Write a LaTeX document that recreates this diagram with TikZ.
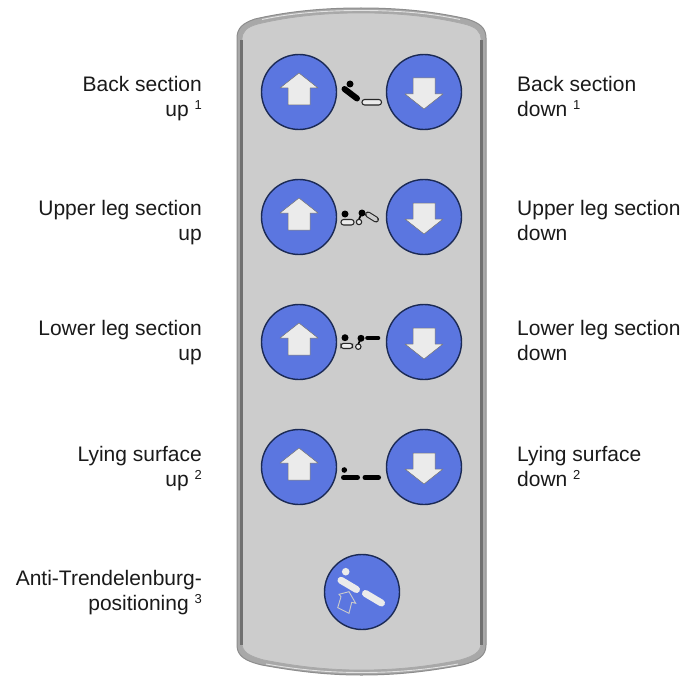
\documentclass[tikz,border=0pt]{standalone}
\usepackage{fontspec}
\setmainfont{Liberation Sans}
\definecolor{panel}{HTML}{CCCCCC}
\definecolor{rimdark}{HTML}{707070}
\definecolor{rimmid}{HTML}{A8A8A8}
\definecolor{rimlight}{HTML}{E2E2E2}
\definecolor{btn}{HTML}{5B76E0}
\definecolor{btnrim}{HTML}{1B2A55}
\definecolor{arrowfill}{HTML}{EBEBEB}
\definecolor{txt}{HTML}{1A1A1A}
\tikzset{
  x=1pt,y=-1pt,
  lbl/.style={text=txt,font=\fontsize{21}{25}\selectfont,inner sep=0pt,align=left,anchor=north west},
  lblr/.style={text=txt,font=\fontsize{21}{25}\selectfont,inner sep=0pt,align=right,anchor=north east},
  btncircle/.style={circle,draw=btnrim,line width=1.4pt,fill=btn,minimum size=75pt,inner sep=0pt},
  arrowshape/.style={fill=arrowfill,draw=black!55,line width=0.5pt,line join=round},
  darkpill/.style={line width=5pt,line cap=round,black},
  openpill/.style={rounded corners=2.6pt,draw=black!85,fill=arrowfill,line width=1.1pt},
  whitepill/.style={line width=7pt,line cap=round,arrowfill},
}
\newcommand{\sups}[1]{\raisebox{7pt}{\fontsize{13}{13}\selectfont #1}}
\newcommand{\uparrowat}[2]{\draw[arrowshape] (#1,#2-19)--(#1+19,#2-4)--(#1+11,#2-4)--(#1+11,#2+13)--(#1-11,#2+13)--(#1-11,#2-4)--(#1-19,#2-4)--cycle;}
\newcommand{\downarrowat}[2]{\draw[arrowshape] (#1,#2+17)--(#1+19,#2+2)--(#1+11,#2+2)--(#1+11,#2-14)--(#1-11,#2-14)--(#1-11,#2+2)--(#1-19,#2+2)--cycle;}
\begin{document}
\begin{tikzpicture}
\useasboundingbox (0,0) rectangle (686,677);
\fill[white] (0,0) rectangle (686,677);
% body: outer rim
\def\bodypath{(237,38) .. controls (237,28) and (243,23) .. (255,19) .. controls (290,11) and (325,8) .. (361,8) .. controls (397,8) and (432,11) .. (467,19) .. controls (480,23) and (486,28) .. (486,38) -- (486,645) .. controls (486,656) and (478,661) .. (462,665) .. controls (425,672) and (395,675) .. (361,675) .. controls (330,675) and (300,672) .. (262,665) .. controls (245,661) and (237,656) .. (237,645) -- cycle}
\def\innerpath{(242,40) .. controls (242,31) and (247,27) .. (258,24) .. controls (292,16) and (325,13) .. (361,13) .. controls (397,13) and (430,16) .. (464,24) .. controls (476,27) and (481,31) .. (481,40) -- (481,643) .. controls (481,652) and (474,656) .. (460,660) .. controls (425,667) and (395,670) .. (361,670) .. controls (330,670) and (300,667) .. (264,660) .. controls (249,656) and (242,652) .. (242,643) -- cycle}
\fill[rimmid] \bodypath;
\draw[rimdark!80!white,line width=1pt] \bodypath;
\fill[panel] \innerpath;
\draw[rimmid,line width=0.7pt] \innerpath;
\draw[rimdark,line width=2.2pt] (241.5,40) -- (241.5,645);
\draw[rimdark,line width=2.2pt] (481.5,40) -- (481.5,645);
\draw[rimlight,line width=0.9pt] (262,19.5) .. controls (292,13) and (325,10.5) .. (361,10.5) .. controls (397,10.5) and (430,13) .. (460,19.5);
\draw[rimlight,line width=0.9pt] (266,664) .. controls (300,670) and (330,672.5) .. (361,672.5) .. controls (395,672.5) and (425,670) .. (458,664);
% buttons
\foreach \nm/\yy in {a/92,b/217,c/342,d/467}{
  \node[btncircle] (up\nm) at (299,\yy) {};
  \node[btncircle] (dn\nm) at (424,\yy) {};
  \uparrowat{299}{\yy}
  \downarrowat{424}{\yy}
}
\node[btncircle] (tr) at (362,592) {};
% icon row 1
\fill (350,84) circle (3.5);
\draw[line width=6pt,line cap=round] (344.5,89) -- (357,98.5);
\draw[openpill] (362,99.5) rectangle (381.5,105);
% icon row 2
\fill (345,214) circle (3.5);
\draw[openpill] (341,219.5) rectangle (354,225);
\draw[black!85,fill=arrowfill,line width=1.1pt] (359,222) circle (2.7);
\draw[black,line width=1.6pt] (359,219) -- (362,213);
\fill (362,213) circle (3.5);
\draw[black!85,line width=6pt,line cap=round] (368,214.5) -- (376,219.5);
\draw[panel,line width=3.8pt,line cap=round] (368,214.5) -- (376,219.5);
% icon row 3
\fill (345,337.7) circle (3.5);
\draw[openpill] (341,343.3) rectangle (352.5,348.5);
\draw[black!85,fill=arrowfill,line width=1.1pt] (358.3,346.7) circle (2.7);
\draw[black,line width=1.6pt] (358.3,344) -- (361,338.3);
\fill (361,338.3) circle (3.5);
\draw[black,line width=4.6pt,line cap=round] (367.5,338) -- (378,338);
% icon row 4
\fill (344.3,470) circle (2.8);
\draw[darkpill] (343.5,477.5) -- (357.5,477.5);
\draw[darkpill] (365,477.5) -- (378.5,477.5);
% trendelenburg icon
\fill[arrowfill] (345.7,571.7) circle (3.8);
\draw[whitepill] (341,580.3) -- (356.5,589.5);
\draw[whitepill] (365.5,593.5) -- (381.5,603);
\draw[rimmid!60!white,line width=0.9pt,line join=miter] (349,591.7) -- (355.7,603.3) -- (351.7,602.3) -- (349,613.3) -- (337.7,607.7) -- (341,596.7) -- (339,594.3) -- cycle;
% labels
\node[lblr] (l1) at (202,76.5) {Back section\\up \sups{1}};
\node[lblr] (l2) at (202,200.5) {Upper leg section\\up};
\node[lblr] (l3) at (202,320) {Lower leg section\\up};
\node[lblr] (l4) at (202,446.5) {Lying surface\\up \sups{2}};
\node[lblr] (l5) at (202,570) {Anti-Trendelenburg-\\positioning \sups{3}};
\node[lbl] (r1) at (517,76.5) {Back section\\down \sups{1}};
\node[lbl] (r2) at (517,200.5) {Upper leg section\\down};
\node[lbl] (r3) at (517,320) {Lower leg section\\down};
\node[lbl] (r4) at (517,446.5) {Lying surface\\down \sups{2}};
\end{tikzpicture}
\end{document}
